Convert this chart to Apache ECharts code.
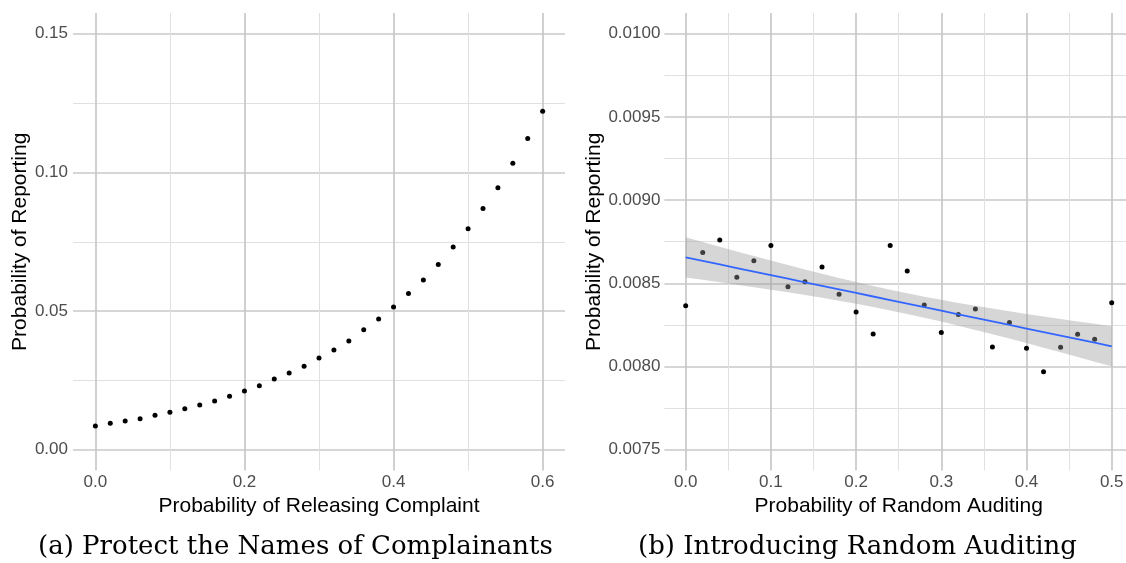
<!DOCTYPE html>
<html>
<head>
<meta charset="utf-8">
<script src="https://cdn.jsdelivr.net/npm/echarts@6/dist/echarts.min.js"></script>
<style>
  html, body { margin: 0; padding: 0; background: #ffffff; }
  #chart { width: 1126px; height: 563px; }
</style>
</head>
<body>
<div id="chart"></div>
<script>
// Panel (a): probability of reporting as the probability of releasing a complaint grows
const releaseProb = [0, 0.02, 0.04, 0.06, 0.08, 0.10, 0.12, 0.14, 0.16, 0.18, 0.20,
  0.22, 0.24, 0.26, 0.28, 0.30, 0.32, 0.34, 0.36, 0.38, 0.40,
  0.42, 0.44, 0.46, 0.48, 0.50, 0.52, 0.54, 0.56, 0.58, 0.60];
const reportA = [0.00854, 0.00951, 0.01035, 0.01118, 0.01240, 0.01348, 0.01478, 0.01611, 0.01756, 0.01925, 0.02116,
  0.02307, 0.02549, 0.02765, 0.03006, 0.03306, 0.03594, 0.03918, 0.04326, 0.04712, 0.05144,
  0.05638, 0.06118, 0.06683, 0.07307, 0.07967, 0.08702, 0.09445, 0.10335, 0.11226, 0.12210];

// Panel (b): probability of reporting under random auditing
const auditProb = [0, 0.02, 0.04, 0.06, 0.08, 0.10, 0.12, 0.14, 0.16, 0.18, 0.20, 0.22, 0.24,
  0.26, 0.28, 0.30, 0.32, 0.34, 0.36, 0.38, 0.40, 0.42, 0.44, 0.46, 0.48, 0.50];
const reportB = [0.008366, 0.008686, 0.008760, 0.008536, 0.008636, 0.008728, 0.008480, 0.008510,
  0.008598, 0.008434, 0.008328, 0.008196, 0.008728, 0.008574, 0.008370, 0.008204, 0.008312,
  0.008346, 0.008118, 0.008264, 0.008110, 0.007968, 0.008116, 0.008194, 0.008164, 0.008384];

// Tick positions (major carry labels, minor are grid only)
const ticksAX = [0, 0.2, 0.4, 0.6];
const minorAX = [0.1, 0.3, 0.5];
const ticksAY = [0, 0.05, 0.10, 0.15];
const minorAY = [0.025, 0.075, 0.125];
const ticksBX = [0, 0.1, 0.2, 0.3, 0.4, 0.5];
const minorBX = [0.05, 0.15, 0.25, 0.35, 0.45];
const ticksBY = [0.0075, 0.0080, 0.0085, 0.0090, 0.0095, 0.0100];
const minorBY = [0.00775, 0.00825, 0.00875, 0.00925, 0.00975];

// Ordinary least squares fit with a 95% confidence band (t quantile for n - 2 = 24 df)
function linearFit(xs, ys, tq) {
  const n = xs.length;
  const mx = xs.reduce((a, b) => a + b, 0) / n;
  const my = ys.reduce((a, b) => a + b, 0) / n;
  let sxx = 0, sxy = 0;
  for (let i = 0; i < n; i++) { sxx += (xs[i] - mx) ** 2; sxy += (xs[i] - mx) * (ys[i] - my); }
  const slope = sxy / sxx, icpt = my - slope * mx;
  let sse = 0;
  for (let i = 0; i < n; i++) sse += (ys[i] - icpt - slope * xs[i]) ** 2;
  const s = Math.sqrt(sse / (n - 2));
  return xs.map(x => {
    const f = icpt + slope * x;
    const h = tq * s * Math.sqrt(1 / n + (x - mx) ** 2 / sxx);
    return { x: x, fit: f, lo: f - h, hi: f + h };
  });
}
const fitB = linearFit(auditProb, reportB, 2.0639);

const sans = 'Liberation Sans, Arial, Helvetica, sans-serif';
const serif = 'DejaVu Serif, Liberation Serif, serif';
const majorLine = { color: '#C8C8C8', width: 1.7 };
const minorLine = { color: '#E0E0E0', width: 1 };
const tickText = { color: '#4D4D4D', fontSize: 17, fontFamily: sans };
const titleText = { color: '#000000', fontSize: 21, fontFamily: sans };
const captionText = { fontFamily: serif, fontSize: 26, fontWeight: 'normal', color: '#000000' };

function valueAxis(opts) {
  return Object.assign({
    type: 'value',
    axisLine: { show: false },
    splitLine: { show: true, lineStyle: opts.minor ? minorLine : majorLine },
    axisTick: { show: false, customValues: opts.ticks },
    axisLabel: opts.minor ? { show: false } :
      Object.assign({ customValues: opts.ticks, formatter: opts.fmt, margin: opts.margin }, tickText)
  }, opts.base);
}

const option = {
  animation: false,
  backgroundColor: '#ffffff',
  title: [
    { text: '(a) Protect the Names of Complainants', left: 38, top: 534, padding: 0, textStyle: captionText },
    { text: '(b) Introducing Random Auditing', left: 638, top: 534, padding: 0, textStyle: captionText }
  ],
  grid: [
    { left: 73, top: 13, width: 492, height: 457.5, containLabel: false, outerBoundsMode: 'none' },
    { left: 664.4, top: 13, width: 468.6, height: 457.5, containLabel: false, outerBoundsMode: 'none' }
  ],
  xAxis: [
    valueAxis({ minor: true, ticks: minorAX, base: { gridIndex: 0, position: 'bottom', min: -0.03, max: 0.63 } }),
    valueAxis({ ticks: ticksAX, fmt: v => v.toFixed(1), margin: 3,
      base: { gridIndex: 0, position: 'bottom', min: -0.03, max: 0.63,
        name: 'Probability of Releasing Complaint', nameLocation: 'middle', nameGap: 21, nameTextStyle: titleText } }),
    valueAxis({ minor: true, ticks: minorBX, base: { gridIndex: 1, position: 'bottom', min: -0.025, max: 0.525 } }),
    valueAxis({ ticks: ticksBX, fmt: v => v.toFixed(1), margin: 3,
      base: { gridIndex: 1, position: 'bottom', min: -0.025, max: 0.525,
        name: 'Probability of Random Auditing', nameLocation: 'middle', nameGap: 21, nameTextStyle: titleText } })
  ],
  yAxis: [
    valueAxis({ minor: true, ticks: minorAY, base: { gridIndex: 0, position: 'left', min: -0.0075, max: 0.1575 } }),
    valueAxis({ ticks: ticksAY, fmt: v => v.toFixed(2), margin: 5,
      base: { gridIndex: 0, position: 'left', min: -0.0075, max: 0.1575,
        name: 'Probability of Reporting', nameLocation: 'middle', nameGap: 40, nameTextStyle: titleText } }),
    valueAxis({ minor: true, ticks: minorBY, base: { gridIndex: 1, position: 'left', min: 0.007375, max: 0.010125 } }),
    valueAxis({ ticks: ticksBY, fmt: v => v.toFixed(4), margin: 4,
      base: { gridIndex: 1, position: 'left', min: 0.007375, max: 0.010125,
        name: 'Probability of Reporting', nameLocation: 'middle', nameGap: 60, nameTextStyle: titleText } })
  ],
  series: [
    {
      type: 'scatter', xAxisIndex: 1, yAxisIndex: 1, z: 2, silent: true,
      symbolSize: 5, itemStyle: { color: '#000000', opacity: 1 },
      data: releaseProb.map((x, i) => [x, reportA[i]])
    },
    {
      type: 'scatter', xAxisIndex: 3, yAxisIndex: 3, z: 2, silent: true,
      symbolSize: 5, itemStyle: { color: '#000000', opacity: 1 },
      data: auditProb.map((x, i) => [x, reportB[i]])
    },
    {
      // confidence band: one polygon along the upper edge and back along the lower edge
      type: 'custom', xAxisIndex: 3, yAxisIndex: 3, z: 3, silent: true,
      data: fitB.map(p => [p.x, p.lo, p.hi]),
      renderItem: function (params, api) {
        if (params.dataIndex !== 0) return null;
        const pts = [];
        fitB.forEach(p => pts.push(api.coord([p.x, p.hi])));
        fitB.slice().reverse().forEach(p => pts.push(api.coord([p.x, p.lo])));
        return { type: 'polygon', shape: { points: pts },
          style: { fill: 'rgba(153,153,153,0.4)', stroke: 'none' } };
      }
    },
    {
      type: 'line', xAxisIndex: 3, yAxisIndex: 3, z: 4, silent: true,
      symbol: 'none', lineStyle: { color: '#3366FF', width: 1.8 },
      data: fitB.map(p => [p.x, p.fit])
    }
  ]
};

echarts.init(document.getElementById('chart'), null, { renderer: 'canvas' }).setOption(option);
</script>
</body>
</html>
